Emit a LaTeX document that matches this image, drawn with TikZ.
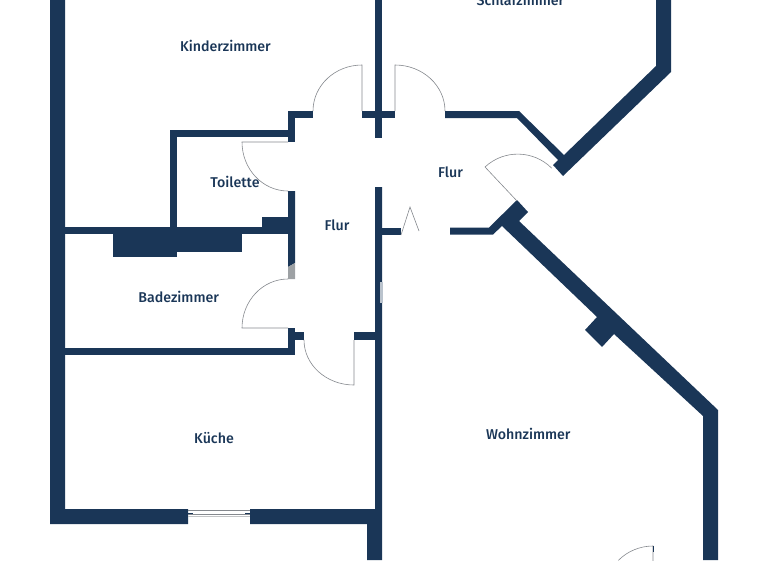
\documentclass[tikz,border=0pt]{standalone}
\usepackage{fontspec}
\setmainfont{Fira Sans}[UprightFont=* Medium]
\definecolor{wallblue}{HTML}{1A3657}
\definecolor{doorgray}{HTML}{85898E}

\begin{document}
\begin{tikzpicture}[
    x=1pt, y=-1pt,
    wall/.style={fill=wallblue},
    door/.style={draw=doorgray, line width=0.6pt},
    pane/.style={draw=doorgray, line width=0.9pt},
    room/.style={anchor=base, text=wallblue, font=\fontsize{14.2}{16}\selectfont}
]
\useasboundingbox (0,0) rectangle (768,560);

% Wände links und unten
\fill[wall] (50,0) -- (65,0) -- (65,509) -- (188,509) -- (188,524) -- (50,524) -- cycle;
\fill[wall] (250,509) -- (375,509) -- (375,187) -- (382,187) -- (382,560) -- (367,560) -- (367,524) -- (250,524) -- cycle;

% Innenwände
\fill[wall] (65,227) rectangle (288,234);
\fill[wall] (65,348) rectangle (295,355);
\fill[wall] (170,130) rectangle (177,227);
\fill[wall] (177,130) rectangle (288,137);
\fill[wall] (288,111) rectangle (295,142);
\fill[wall] (295,111) rectangle (313,118);
\fill[wall] (288,191) -- (295,191) -- (295,263) -- (288,267) -- cycle;
\fill[doorgray!80] (288,267) -- (295,263) -- (295,279) -- (288,279) -- cycle;
\fill[wall] (288,328) rectangle (295,355);
\fill[wall] (295,332) rectangle (304,340);
\fill[wall] (354,332) rectangle (375,340);
\fill[wall] (382,227.5) rectangle (401,234.5);
\fill[wall] (375,0) rectangle (382,138);
\fill[wall] (362,111) rectangle (395,118);
\fill[wallblue!30] (380,282) rectangle (383,303);

% Schornsteine
\fill[wall] (113,234) rectangle (177,257);
\fill[wall] (177,234) rectangle (242,252);
\fill[wall] (262,217) rectangle (288,227);

% Schlafzimmer
\fill[wall] (445,111) -- (519,111) -- (564,155) -- (656,66) -- (656,0) -- (671,0) -- (671,72) -- (563,176) -- (553,165) -- (558,160) -- (517,118) -- (445,118) -- cycle;

% Wohnzimmer
\fill[wall] (450,227.5) -- (489,227.5) -- (517,200) -- (528,212) -- (519,221) -- (718,410) -- (718,560) -- (703,560) -- (703,416) -- (614,334) -- (602,347) -- (585,330) -- (597,317) -- (502,226) -- (493,234.5) -- (450,234.5) -- cycle;

% Türen
\draw[door] (313,111) arc[start angle=180, end angle=90, x radius=49pt, y radius=46pt] -- (362,111);
\draw[door] (395,111) -- (395,65) arc[start angle=90, end angle=0, x radius=50pt, y radius=46pt];
\draw[door] (288,142) -- (242,142) arc[start angle=180, end angle=270, x radius=46pt, y radius=49pt];
\draw[door] (288,328) -- (242,328) arc[start angle=180, end angle=90, x radius=46pt, y radius=49pt];
\draw[door] (354,340) -- (354,385) arc[start angle=270, end angle=180, x radius=50pt, y radius=45pt];
\draw[door] (517,201) -- (485,167) arc[start angle=133, end angle=45, radius=48pt];
\draw[door] (653,595) -- (653,546) arc[start angle=90, end angle=135, radius=49pt];
\draw[door] (401,235) -- (410,207) -- (419,231);
\draw[wallblue, line width=0.8pt] (653,546) -- (653,552);

% Fenster
\draw[pane] (188,510) -- (250,510);
\draw[pane] (188,514) -- (250,514);
\draw[pane, draw=doorgray!50] (188,516.5) -- (250,516.5);
\draw[wallblue, line width=1pt] (188,513) -- (193,513);
\draw[wallblue, line width=1pt] (245,513) -- (250,513);

% Räume
\node[room] (kinder) at (225.5,51.3) {Kinderzimmer};
\node[room] (schlaf) at (520.5,5.2) {Schlafzimmer};
\node[room] (toilette) at (235,187.8) {Toilette};
\node[room] (flurb) at (450.5,177.3) {Flur};
\node[room] (flura) at (337,230.3) {Flur};
\node[room] (bad) at (178.7,302.8) {Badezimmer};
\node[room] (kueche) at (214,443.3) {Küche};
\node[room] (wohn) at (528.3,439.3) {Wohnzimmer};

\end{tikzpicture}
\end{document}
